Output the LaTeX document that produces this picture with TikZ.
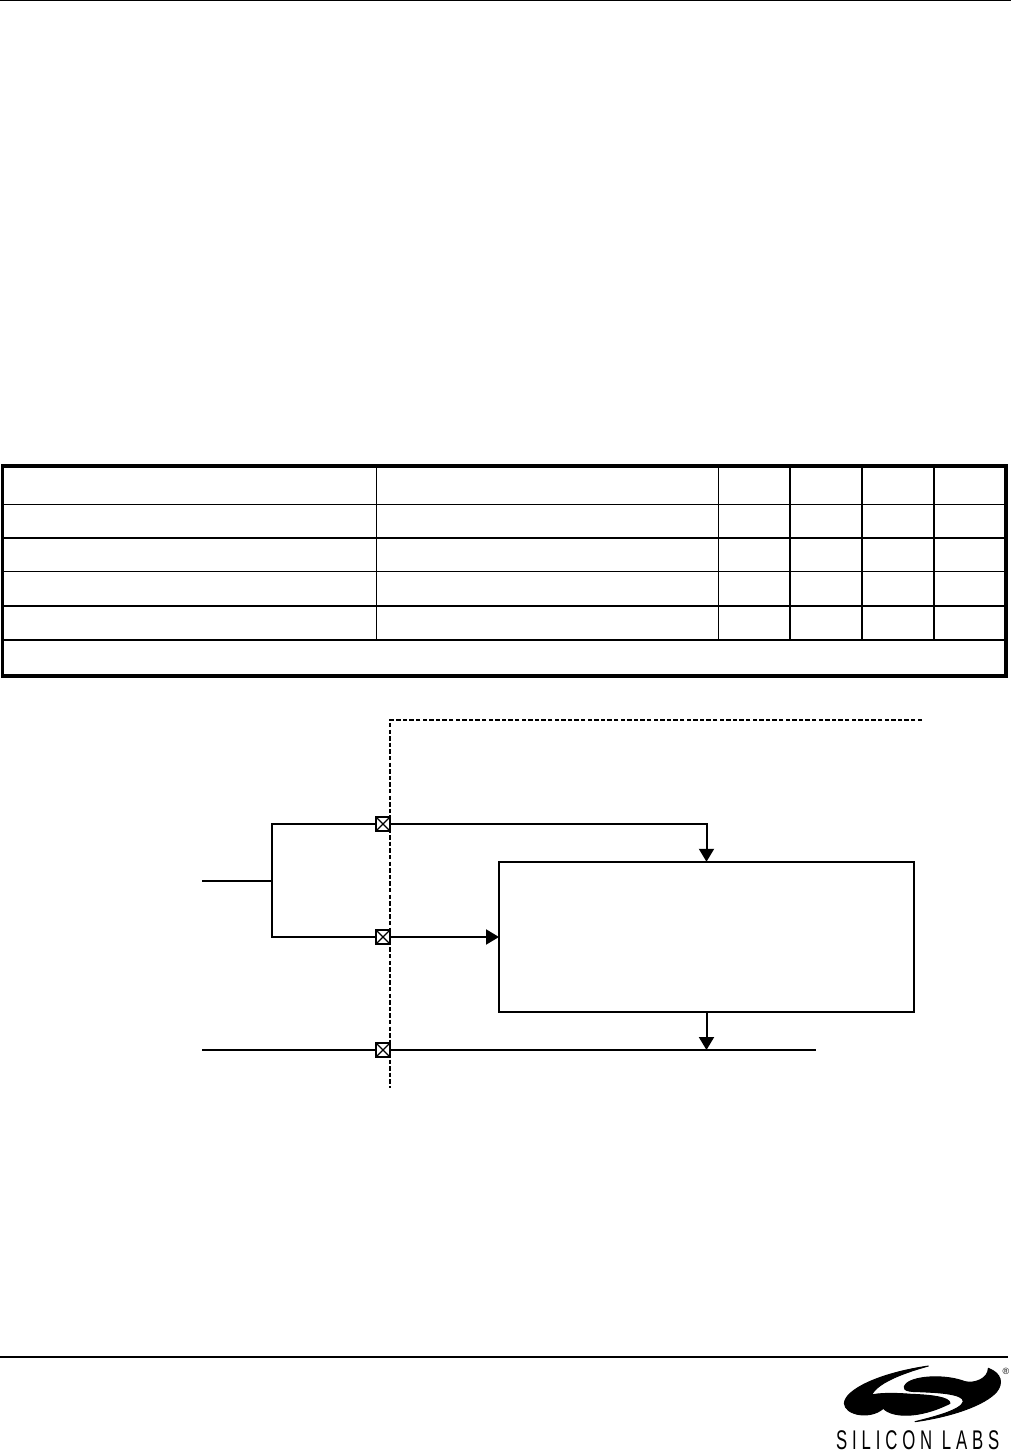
\documentclass[tikz,border=0pt]{standalone}
\usepackage{xcolor}
\usepackage{fontspec}
\usepackage{tikz}
\usetikzlibrary{arrows.meta, positioning, calc}
\newfontfamily\logofont[LetterSpace=18,FakeStretch=0.62]{Liberation Sans}
\newfontfamily\markfont{Liberation Sans}
\definecolor{myink}{RGB}{0,0,0}
\tikzset{
  rule/.style={line width=1.3pt, color=myink},
  grid/.style={line width=1.2pt, color=myink},
  frame/.style={line width=3.8pt, color=myink},
  boundary/.style={line width=2pt, color=myink, dash pattern=on 4.4pt off 2.2pt},
  wire/.style={line width=2pt, color=myink},
  thinwire/.style={line width=1.2pt, color=myink},
  arrow/.style={-{Triangle[length=13pt,width=15pt]}, line width=2pt, color=myink},
  pinbox/.style={rectangle, draw=myink, fill=white, minimum size=14pt, inner sep=0pt,
    outer sep=0pt, line width=1.8pt,
    path picture={\draw[line width=1.3pt, color=myink]
      (path picture bounding box.south west) -- (path picture bounding box.north east)
      (path picture bounding box.north west) -- (path picture bounding box.south east);}},
  mainblock/.style={rectangle, draw=myink, fill=white, minimum width=415pt, minimum height=150.5pt,
    inner sep=0pt, outer sep=0pt, line width=2pt},
  logoshape/.style={fill=myink, draw=myink, line width=1pt, line join=round},
  logotext/.style={font=\logofont\fontsize{27}{27}\selectfont, inner sep=0pt, anchor=base west, color=myink}
}
\begin{document}
\begin{tikzpicture}[x=1pt,y=-1pt]
  \useasboundingbox (0,0) rectangle (1011,1450);
  % Page rules
  \draw[rule] (0,0.6) -- (1011,0.6);
  \draw[rule] (0,1357) -- (1008,1357);
  % Table grid
  \foreach \y in {504.5,538,571.5,606,640} {
    \draw[grid] (2.5,\y) -- (1006,\y);
  }
  \foreach \x in {376.5,718.5,790,862,934} {
    \draw[grid] (\x,466) -- (\x,640);
  }
  \draw[frame] (2.5,466) rectangle (1006,676);
  % Chip boundary
  \coordinate (edgeA) at (922,720);
  \coordinate (edgeB) at (390.3,720);
  \coordinate (edgeC) at (390.3,1088);
  \draw[boundary] (edgeA) -- (edgeB) -- (edgeC);
  % Pins and block
  \node[pinbox] (pinA) at (383,824) {};
  \node[pinbox] (pinB) at (383,937) {};
  \node[pinbox] (pinC) at (383,1050) {};
  \node[mainblock] (block) at (706.5,937) {};
  % Left input and its split
  \coordinate (input) at (202,881);
  \coordinate (split) at (272,881);
  \draw[wire] (input) -- (split);
  \draw[wire] (pinA.west) -| (split);
  \draw[wire] (pinB.west) -| (split);
  % Arrows into and out of the block
  \coordinate (busL) at (202,1050);
  \coordinate (busR) at (816,1050);
  \draw[thinwire] (busL) -- (pinC.west);
  \draw[thinwire] (pinC.east) -- (busR);
  \draw[arrow] (pinA.east) -| (block.north);
  \draw[arrow] (pinB.east) -- (block.west);
  \draw[arrow] (block.south) -- (block.south |- busR);
  % Logo
  \begin{scope}[shift={(835,1360)},x=0.3333pt,y=-0.3333pt]
    \path[logoshape] (280,18) .. controls (130,40) and (30,90) .. (28,130)
      .. controls (30,165) and (105,180) .. (145,145)
      .. controls (170,172) and (250,178) .. (345,130)
      .. controls (345,112) and (290,105) .. (230,103)
      .. controls (170,98) and (130,100) .. (110,105)
      .. controls (125,70) and (200,40) .. (280,18) -- cycle;
    \path[logoshape] (460,25) .. controls (500,40) and (505,70) .. (485,95)
      .. controls (450,135) and (350,170) .. (240,185)
      .. controls (300,170) and (378,150) .. (385,125)
      .. controls (388,100) and (300,97) .. (250,95)
      .. controls (205,95) and (200,85) .. (215,70)
      .. controls (240,48) and (330,42) .. (390,65)
      .. controls (420,72) and (460,55) .. (460,25) -- cycle;
  \end{scope}
  \node[font=\markfont\fontsize{9}{9}\selectfont, inner sep=0pt, color=myink] (regmark) at (1006,1371) {®};
  \node[logotext] (logoname) at (836,1449) {SILICON LABS};
\end{tikzpicture}
\end{document}
